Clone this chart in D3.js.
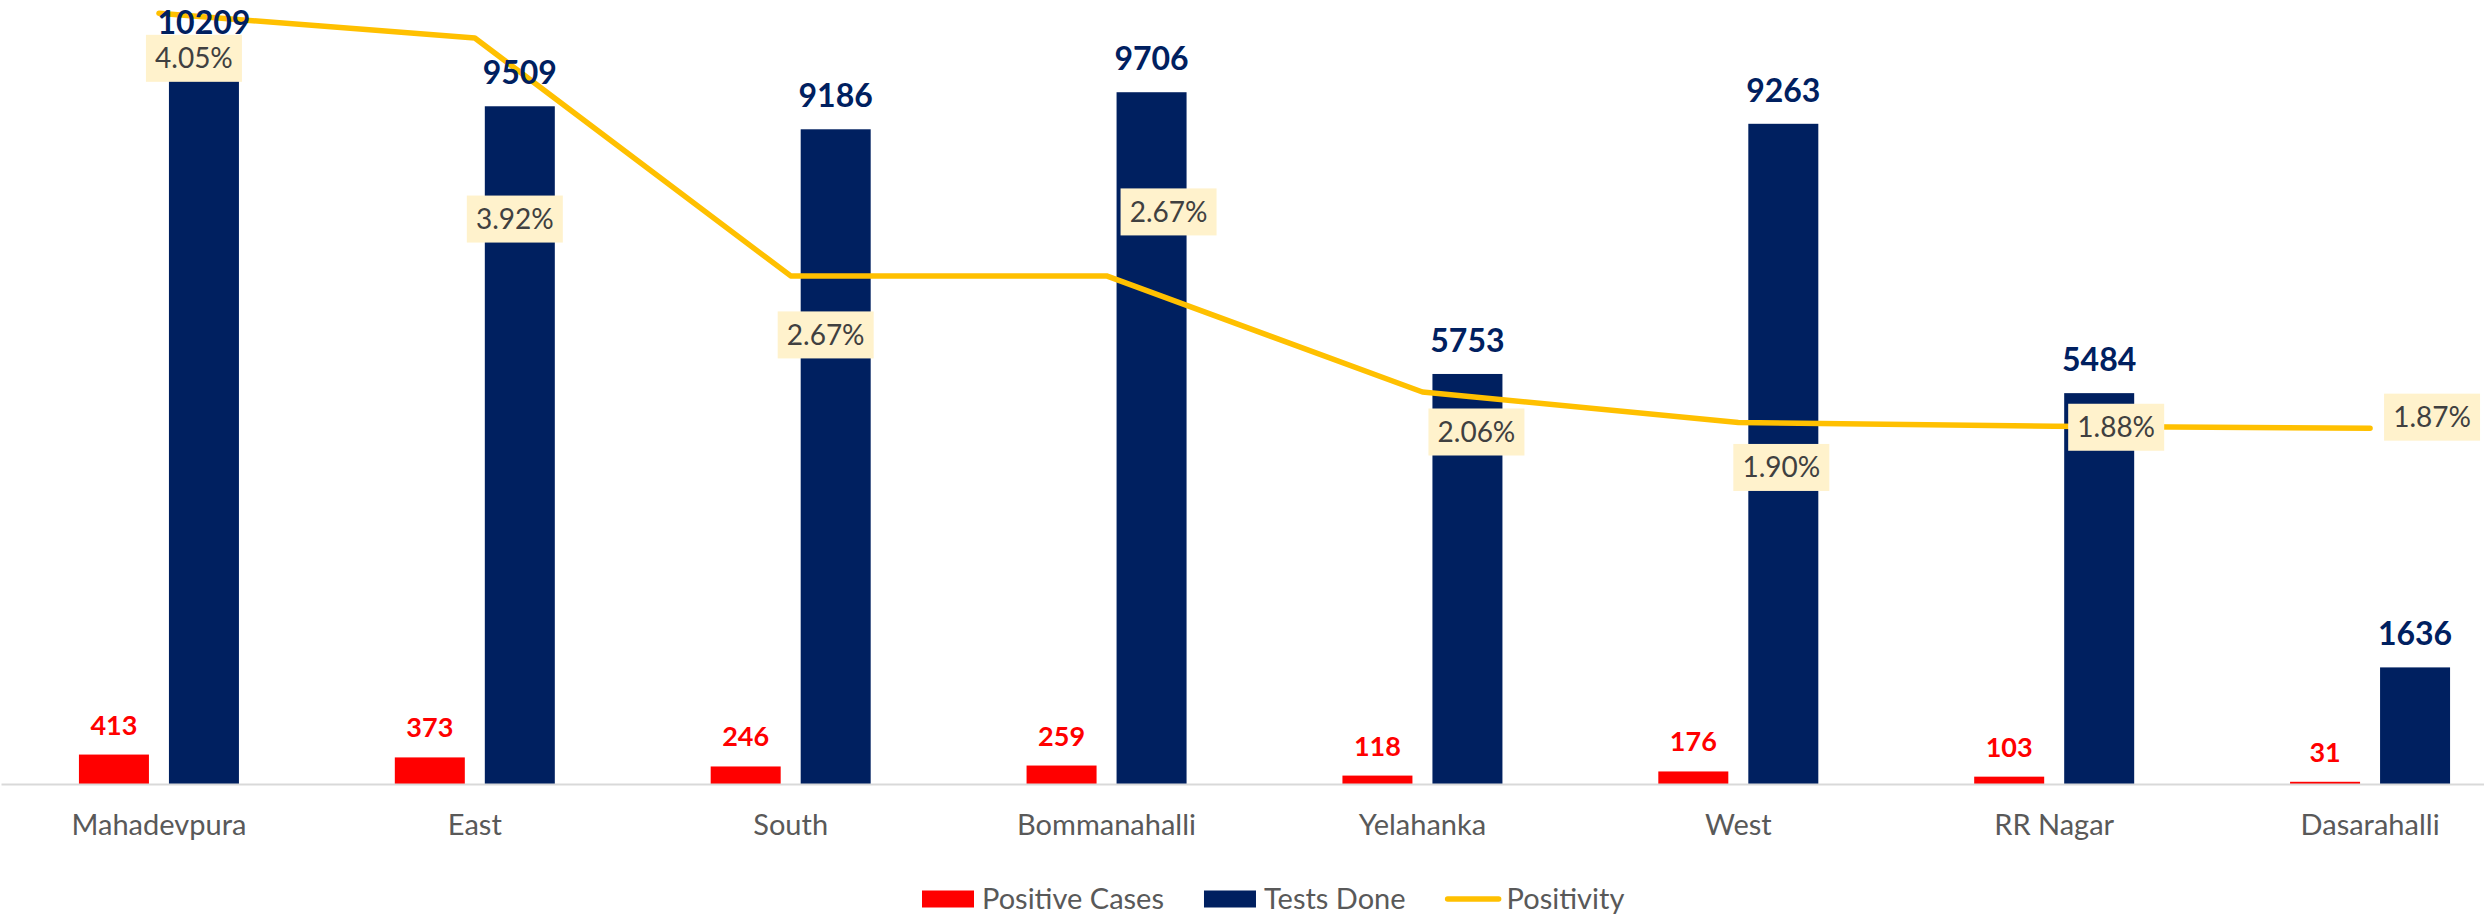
<!DOCTYPE html>
<html>
<head>
<meta charset="utf-8">
<script src="https://cdn.jsdelivr.net/npm/d3@7/dist/d3.min.js"></script>
<style>
  html, body { margin: 0; padding: 0; background: #ffffff; }
  svg { display: block; }
  text { font-family: Lato, "Noto Sans", sans-serif; }
</style>
</head>
<body>
<svg id="chart" width="2484" height="916"></svg>
<script>
// ---- data ----
const categories = ["Mahadevpura", "East", "South", "Bommanahalli", "Yelahanka", "West", "RR Nagar", "Dasarahalli"];
const positiveCases = [413, 373, 246, 259, 118, 176, 103, 31];
const testsDone = [10209, 9509, 9186, 9706, 5753, 9263, 5484, 1636];
const positivity = [4.05, 3.92, 2.67, 2.67, 2.06, 1.90, 1.88, 1.87];
const seriesNames = ["Positive Cases", "Tests Done", "Positivity"];

// ---- layout (not data) ----
const W = 2484, H = 916;
const baseY = 784;
const colors = { pos: "#FF0000", tests: "#002060", line: "#FFC000" };
// manual offsets of the positivity labels from their points (dx, dy)
const pctLabelNudge = [[35, 45], [40, 181], [35, 59], [62, -64], [54, 40], [43, 45], [62, 1], [62, -11]];

const svg = d3.select("#chart");

const x = d3.scaleBand().domain(categories).range([1, 2528]).padding(0);
const xs = d3.scaleBand().domain(["pos", "tests"]).range([-80, 80]).paddingInner(2 / 9).paddingOuter(0);
const y = d3.scaleLinear().domain([0, 11000]).range([baseY, 0]);
const y2 = d3.scaleLinear().domain([0, 4.12]).range([baseY, 0]);
const cx = c => x(c) + x.bandwidth() / 2;

// bars
const gBars = svg.append("g");
gBars.selectAll("rect.pos").data(categories).join("rect")
  .attr("class", "pos")
  .attr("x", (c) => cx(c) + xs("pos"))
  .attr("width", xs.bandwidth())
  .attr("y", (c, i) => y(positiveCases[i]))
  .attr("height", (c, i) => baseY - y(positiveCases[i]))
  .attr("fill", colors.pos);
gBars.selectAll("rect.tests").data(categories).join("rect")
  .attr("class", "tests")
  .attr("x", (c) => cx(c) + xs("tests"))
  .attr("width", xs.bandwidth())
  .attr("y", (c, i) => y(testsDone[i]))
  .attr("height", (c, i) => baseY - y(testsDone[i]))
  .attr("fill", colors.tests);

// x axis
const xAxis = svg.append("g").attr("transform", `translate(0,${baseY})`)
  .call(d3.axisBottom(x).tickSize(0).tickSizeOuter(0));
xAxis.select(".domain").attr("stroke", "#D9D9D9").attr("stroke-width", 2);
xAxis.selectAll(".tick text")
  .attr("y", 51).attr("dy", 0)
  .attr("fill", "#595959")
  .style("font-family", "Lato, 'Noto Sans', sans-serif")
  .style("font-size", "29px");

// line
const line = d3.line()
  .x((d, i) => cx(categories[i]))
  .y(d => y2(d));
svg.append("path")
  .datum(positivity)
  .attr("d", line)
  .attr("fill", "none")
  .attr("stroke", colors.line)
  .attr("stroke-width", 5.5)
  .attr("stroke-linejoin", "round")
  .attr("stroke-linecap", "round");

// bar labels
svg.append("g").selectAll("text").data(categories).join("text")
  .attr("x", c => cx(c) + xs("pos") + xs.bandwidth() / 2)
  .attr("y", (c, i) => y(positiveCases[i]) - 20)
  .attr("text-anchor", "middle")
  .attr("fill", colors.pos)
  .style("font-weight", "700")
  .style("font-size", "27px")
  .text((c, i) => positiveCases[i]);
svg.append("g").selectAll("text").data(categories).join("text")
  .attr("x", c => cx(c) + xs("tests") + xs.bandwidth() / 2)
  .attr("y", (c, i) => y(testsDone[i]) - 22)
  .attr("text-anchor", "middle")
  .attr("fill", colors.tests)
  .style("font-weight", "700")
  .style("font-size", "32px")
  .text((c, i) => testsDone[i]);

// positivity labels
const gPct = svg.append("g").selectAll("g").data(categories).join("g")
  .attr("transform", (c, i) => `translate(${cx(c) + pctLabelNudge[i][0]},${y2(positivity[i]) + pctLabelNudge[i][1]})`);
gPct.append("rect")
  .attr("x", -48).attr("y", -23.5).attr("width", 96).attr("height", 47)
  .attr("fill", "#FFF2CC");
gPct.append("text")
  .attr("text-anchor", "middle")
  .attr("y", 10)
  .attr("fill", "#404040")
  .style("font-size", "28px")
  .text((c, i) => positivity[i].toFixed(2) + "%");

// legend
const legend = svg.append("g").attr("transform", "translate(922, 899)");
let lx = 0;
seriesNames.forEach((name, k) => {
  const g = legend.append("g").attr("transform", `translate(${lx},0)`);
  if (k < 2) {
    g.append("rect").attr("x", 0).attr("y", -8.5).attr("width", 52).attr("height", 17)
      .attr("fill", k === 0 ? colors.pos : colors.tests);
  } else {
    g.append("line").attr("x1", 2).attr("x2", 53).attr("y1", 0).attr("y2", 0)
      .attr("stroke", colors.line).attr("stroke-width", 5.5).attr("stroke-linecap", "round");
  }
  const t = g.append("text").attr("x", k < 2 ? 60 : 61).attr("y", 10)
    .attr("fill", "#595959").style("font-size", "29px").text(name);
  const tw = t.node().getComputedTextLength();
  lx += (k < 2 ? 60 : 61) + tw + 40;
});
</script>
</body>
</html>
